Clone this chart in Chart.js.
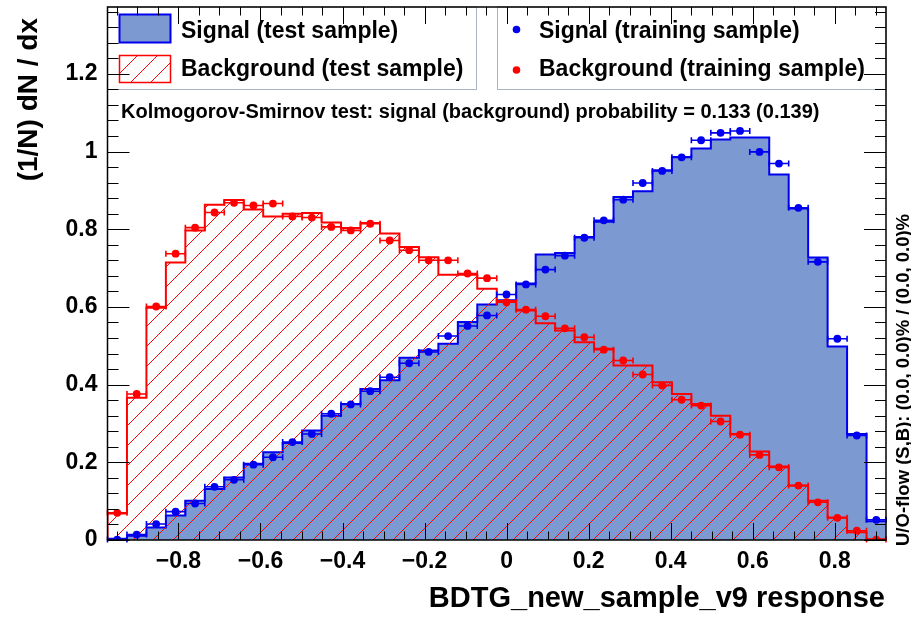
<!DOCTYPE html>
<html>
<head>
<meta charset="utf-8">
<title>BDTG response</title>
<script src="https://cdn.jsdelivr.net/npm/chart.js@4.4.1/dist/chart.umd.min.js"></script>
<style>
  html, body { margin: 0; padding: 0; background: #fff; }
  canvas { display: block; }
</style>
</head>
<body>
<canvas id="mvaChart" width="911" height="618"></canvas>
<script>
// binning of the classifier output
const binLow = -0.973;
const binHigh = 0.925;
const nBins = 40;

// normalised distributions (1/N dN/dx), one value per bin
const sigTest = [0.003, 0.011, 0.032, 0.063, 0.101, 0.131, 0.161, 0.196, 0.226, 0.250,
                 0.282, 0.320, 0.350, 0.389, 0.411, 0.469, 0.488, 0.505, 0.561, 0.606,
                 0.617, 0.660, 0.735, 0.739, 0.780, 0.819, 0.883, 0.898, 0.952, 0.986,
                 1.008, 1.031, 1.036, 1.036, 0.941, 0.853, 0.727, 0.498, 0.273, 0.048];
const bgTest = [0.068, 0.366, 0.598, 0.714, 0.797, 0.863, 0.875, 0.851, 0.833, 0.840,
                0.842, 0.817, 0.803, 0.816, 0.789, 0.754, 0.728, 0.683, 0.683, 0.647,
                0.615, 0.591, 0.558, 0.539, 0.509, 0.492, 0.449, 0.449, 0.406, 0.376,
                0.350, 0.320, 0.273, 0.228, 0.189, 0.140, 0.101, 0.058, 0.020, 0.002];
const sigTrain = [0.001, 0.014, 0.041, 0.073, 0.094, 0.137, 0.155, 0.194, 0.213, 0.252,
                  0.273, 0.325, 0.349, 0.383, 0.419, 0.455, 0.484, 0.525, 0.551, 0.578,
                  0.632, 0.658, 0.696, 0.732, 0.778, 0.823, 0.876, 0.919, 0.950, 0.985,
                  1.029, 1.048, 1.053, 0.999, 0.969, 0.855, 0.716, 0.518, 0.269, 0.052];
const bgTrain = [0.070, 0.376, 0.601, 0.737, 0.804, 0.843, 0.868, 0.861, 0.866, 0.833,
                 0.830, 0.806, 0.797, 0.814, 0.771, 0.746, 0.720, 0.720, 0.686, 0.674,
                 0.612, 0.593, 0.576, 0.545, 0.522, 0.490, 0.462, 0.426, 0.398, 0.361,
                 0.346, 0.305, 0.271, 0.219, 0.187, 0.140, 0.097, 0.057, 0.024, 0.001];

const xTicks = [-0.8, -0.6, -0.4, -0.2, 0, 0.2, 0.4, 0.6, 0.8];
const yTicks = [0, 0.2, 0.4, 0.6, 0.8, 1, 1.2];
const yMax = 1.372;

const seriesLabels = ['Signal (test sample)', 'Background (test sample)',
                      'Signal (training sample)', 'Background (training sample)'];
const ksText = 'Kolmogorov-Smirnov test: signal (background) probability = 0.133 (0.139)';
const xTitle = 'BDTG_new_sample_v9 response';
const yTitle = '(1/N) dN / dx';
const flowText = 'U/O-flow (S,B): (0.0, 0.0)% / (0.0, 0.0)%';

const sigFill = '#7d99d1';
const sigLine = '#0000ee';
const bgLine = '#ff0000';
const FONT = '"Liberation Sans", Arial, Helvetica, sans-serif';

const binWidth = (binHigh - binLow) / nBins;
const edge = i => binLow + i * binWidth;
const center = i => binLow + (i + 0.5) * binWidth;

// step outline, closed down to zero on both ends
function histPoints(values) {
    let pts = [{x: edge(0), y: 0}];
    values.forEach((v, i) => pts.push({x: edge(i), y: v}));
    pts.push({x: edge(nBins), y: values[nBins - 1]});
    pts.push({x: edge(nBins), y: 0});
    return pts;
}

function binPoints(values) {
    return values.map((v, i) => ({x: center(i), y: v}));
}

// red 45 degree hatching for the background histogram
function makeHatch(ctx) {
    const c = document.createElement('canvas');
    c.width = 20;
    c.height = 20;
    const g = c.getContext('2d');
    g.strokeStyle = bgLine;
    g.lineWidth = 1;
    [13, 33].forEach(s => {
        g.beginPath();
        g.moveTo(s + 1, -1);
        g.lineTo(s - 21, 21);
        g.stroke();
    });
    return ctx.createPattern(c, 'repeat');
}

function tickLabel(v) {
    if (v < 0) return '\u2212' + Math.abs(v);
    return String(v);
}

// horizontal bin-width error bars under the training markers
const errorBars = {
    id: 'errorBars',
    beforeDatasetDraw(chart, args) {
        const ds = chart.data.datasets[args.index];
        if (!ds.binBars) return;
        const xs = chart.scales.x, ys = chart.scales.y, ctx = chart.ctx;
        ctx.save();
        ctx.strokeStyle = ds.pointBackgroundColor;
        ctx.lineWidth = 1.6;
        ds.data.forEach((p, i) => {
            const x0 = xs.getPixelForValue(edge(i));
            const x1 = xs.getPixelForValue(edge(i + 1));
            const y = ys.getPixelForValue(p.y);
            ctx.beginPath();
            ctx.moveTo(x0, y); ctx.lineTo(x1, y);
            ctx.moveTo(x0, y - 3); ctx.lineTo(x0, y + 3);
            ctx.moveTo(x1, y - 3); ctx.lineTo(x1, y + 3);
            ctx.stroke();
        });
        ctx.restore();
    }
};

// legends, KS text, frame with inward ticks, axis titles
const decorations = {
    id: 'decorations',
    afterDatasetsDraw(chart) {
        const ctx = chart.ctx, a = chart.chartArea;
        const xs = chart.scales.x, ys = chart.scales.y;
        ctx.save();

        // legend boxes
        ctx.strokeStyle = '#aab2c4';
        ctx.lineWidth = 1;
        ctx.strokeRect(a.left, a.top, 476.5 - a.left, 89.5 - a.top);
        ctx.strokeRect(497.5, a.top, a.right - 497.5, 89.5 - a.top);

        ctx.fillStyle = sigFill;
        ctx.fillRect(119.5, 14.5, 51, 28);
        ctx.strokeStyle = sigLine;
        ctx.lineWidth = 2;
        ctx.strokeRect(119.5, 14.5, 51, 28);

        ctx.fillStyle = chart.$hatch;
        ctx.fillRect(119.5, 55.5, 51, 27);
        ctx.strokeStyle = bgLine;
        ctx.lineWidth = 1.5;
        ctx.strokeRect(119.5, 55.5, 51, 27);

        ctx.fillStyle = sigLine;
        ctx.beginPath(); ctx.arc(516.5, 29.5, 3.8, 0, 2 * Math.PI); ctx.fill();
        ctx.fillStyle = bgLine;
        ctx.beginPath(); ctx.arc(516.5, 70, 3.8, 0, 2 * Math.PI); ctx.fill();

        ctx.fillStyle = '#000';
        ctx.font = 'bold 23px ' + FONT;
        ctx.textAlign = 'left';
        ctx.textBaseline = 'alphabetic';
        ctx.fillText(seriesLabels[0], 181, 37.5);
        ctx.fillText(seriesLabels[1], 181, 76);
        ctx.fillText(seriesLabels[2], 539, 37.5);
        ctx.fillText(seriesLabels[3], 539, 76);

        ctx.font = 'bold 20px ' + FONT;
        ctx.fillText(ksText, 121, 118);

        // ticks on all four sides
        ctx.strokeStyle = '#000';
        ctx.lineWidth = 1;
        ctx.beginPath();
        for (let k = -19; k <= 18; k++) {
            const v = k * 0.05;
            const px = Math.round(xs.getPixelForValue(v)) + 0.5;
            const len = (k % 4 === 0) ? 17 : 8.5;
            ctx.moveTo(px, a.bottom); ctx.lineTo(px, a.bottom - len);
            ctx.moveTo(px, a.top); ctx.lineTo(px, a.top + len);
        }
        for (let k = 0; k <= 34; k++) {
            const v = k * 0.04;
            const py = Math.round(ys.getPixelForValue(v)) + 0.5;
            const len = (k % 5 === 0) ? 22 : 11;
            ctx.moveTo(a.left, py); ctx.lineTo(a.left + len, py);
            ctx.moveTo(a.right, py); ctx.lineTo(a.right - len, py);
        }
        ctx.stroke();

        ctx.lineWidth = 1.5;
        ctx.strokeRect(a.left, a.top, a.right - a.left, a.bottom - a.top);
        ctx.restore();
    },
    afterDraw(chart) {
        const ctx = chart.ctx;
        ctx.save();
        ctx.fillStyle = '#000';

        ctx.font = 'bold 29px ' + FONT;
        ctx.textAlign = 'right';
        ctx.textBaseline = 'alphabetic';
        ctx.fillText(xTitle, 885, 607);

        ctx.save();
        ctx.font = 'bold 28px ' + FONT;
        ctx.translate(37, 18);
        ctx.rotate(-Math.PI / 2);
        ctx.fillText(yTitle, 0, 0);
        ctx.restore();

        ctx.save();
        ctx.font = 'bold 18.5px ' + FONT;
        ctx.textAlign = 'left';
        ctx.translate(909, 546);
        ctx.rotate(-Math.PI / 2);
        ctx.fillText(flowText, 0, 0);
        ctx.restore();

        ctx.restore();
    }
};

const ctx = document.getElementById('mvaChart').getContext('2d');
const hatch = makeHatch(ctx);

const chart = new Chart(ctx, {
    type: 'line',
    data: {
        datasets: [
            {
                label: seriesLabels[0],
                data: histPoints(sigTest),
                stepped: 'before',
                borderColor: sigLine,
                borderWidth: 2,
                backgroundColor: sigFill,
                fill: 'origin',
                pointRadius: 0,
                order: 4
            },
            {
                label: seriesLabels[1],
                data: histPoints(bgTest),
                stepped: 'before',
                borderColor: bgLine,
                borderWidth: 2,
                backgroundColor: hatch,
                fill: 'origin',
                pointRadius: 0,
                order: 3
            },
            {
                label: seriesLabels[2],
                data: binPoints(sigTrain),
                showLine: false,
                binBars: true,
                pointRadius: 3.9,
                pointBorderWidth: 0,
                pointBackgroundColor: sigLine,
                order: 2
            },
            {
                label: seriesLabels[3],
                data: binPoints(bgTrain),
                showLine: false,
                binBars: true,
                pointRadius: 3.9,
                pointBorderWidth: 0,
                pointBackgroundColor: bgLine,
                order: 1
            }
        ]
    },
    options: {
        responsive: false,
        animation: false,
        devicePixelRatio: 1,
        layout: { padding: { top: 7, right: 25, left: 0, bottom: 0 } },
        plugins: {
            legend: { display: false },
            tooltip: { enabled: false },
            title: { display: false }
        },
        scales: {
            x: {
                type: 'linear',
                min: binLow,
                max: binHigh,
                afterBuildTicks: s => { s.ticks = xTicks.map(v => ({value: v})); },
                afterFit: s => {
                    s.height = 78;
                    s.paddingLeft = 0;
                    s.paddingRight = 0;
                },
                grid: { display: false, drawTicks: false },
                border: { display: false },
                ticks: {
                    color: '#000',
                    font: { family: FONT, size: 23, weight: 'bold' },
                    padding: 8,
                    maxRotation: 0,
                    autoSkip: false,
                    callback: v => tickLabel(v)
                }
            },
            y: {
                type: 'linear',
                min: 0,
                max: yMax,
                afterBuildTicks: s => { s.ticks = yTicks.map(v => ({value: v})); },
                afterFit: s => {
                    s.width = 107.5;
                    s.paddingTop = 0;
                    s.paddingBottom = 0;
                },
                grid: { display: false, drawTicks: false },
                border: { display: false },
                ticks: {
                    color: '#000',
                    font: { family: FONT, size: 23, weight: 'bold' },
                    padding: 10,
                    callback: v => tickLabel(v)
                }
            }
        }
    },
    plugins: [errorBars, decorations]
});
chart.$hatch = hatch;
chart.draw();
</script>
</body>
</html>
